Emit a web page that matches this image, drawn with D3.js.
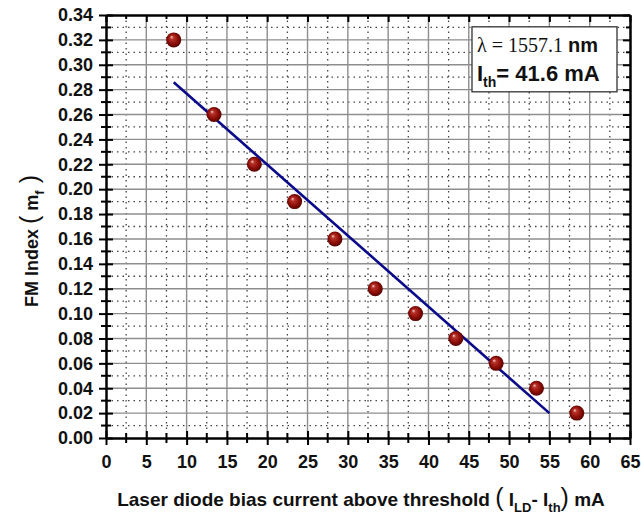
<!DOCTYPE html>
<html>
<head>
<meta charset="utf-8">
<script src="https://cdn.jsdelivr.net/npm/d3@7"></script>
<style>
  body { margin: 0; background: #fff; }
  text { font-family: "Liberation Sans", Arial, sans-serif; }
</style>
</head>
<body>
<div id="chart-area"></div>
<script>
// measured points
let currents = [8.4, 13.4, 18.4, 23.4, 28.4, 33.4, 38.4, 43.4, 48.4, 53.4, 58.4]
let fmIndex = [0.32, 0.26, 0.22, 0.19, 0.16, 0.12, 0.10, 0.08, 0.06, 0.04, 0.02]
// linear fit end points
let fitX = [8.4, 55]
let fitY = [0.286, 0.020]

let xTicks = d3.range(0, 66, 5)
let yTicks = d3.range(0, 0.3401, 0.02)
let xMinor = d3.range(2.5, 65, 5)
let yMinor = d3.range(0.01, 0.34, 0.02)

let margin = { top: 15, right: 11, bottom: 79, left: 106 }
let width = 641, height = 517
let canvasWidth = width - margin.left - margin.right
let canvasHeight = height - margin.top - margin.bottom

let svg = d3.select("#chart-area").append("svg")
  .attr("width", width)
  .attr("height", height)

let defs = svg.append("defs")
let grad = defs.append("radialGradient")
  .attr("id", "ball")
  .attr("cx", "50%").attr("cy", "50%").attr("r", "55%")
  .attr("fx", "35%").attr("fy", "30%")
grad.append("stop").attr("offset", "0%").attr("stop-color", "#f4d6d2")
grad.append("stop").attr("offset", "22%").attr("stop-color", "#b8332a")
grad.append("stop").attr("offset", "65%").attr("stop-color", "#8a0c06")
grad.append("stop").attr("offset", "100%").attr("stop-color", "#4a0200")

let g = svg.append("g")
  .attr("transform", "translate(" + margin.left + ", " + margin.top + ")")

let x = d3.scaleLinear().domain([0, 65]).range([0, canvasWidth])
let y = d3.scaleLinear().domain([0, 0.34]).range([canvasHeight, 0])

// minor dotted grid
g.selectAll(".vminor").data(xMinor).enter().append("line")
  .attr("x1", d => x(d)).attr("x2", d => x(d))
  .attr("y1", 0).attr("y2", canvasHeight)
  .attr("stroke", "#444").attr("stroke-width", 1.3).attr("stroke-dasharray", "1.5,4")
g.selectAll(".hminor").data(yMinor).enter().append("line")
  .attr("y1", d => y(d)).attr("y2", d => y(d))
  .attr("x1", 0).attr("x2", canvasWidth)
  .attr("stroke", "#444").attr("stroke-width", 1.3).attr("stroke-dasharray", "1.5,4")

// major grid
g.selectAll(".vmajor").data(xTicks.slice(1, -1)).enter().append("line")
  .attr("x1", d => x(d)).attr("x2", d => x(d))
  .attr("y1", 0).attr("y2", canvasHeight)
  .attr("stroke", "#8e8e8e").attr("stroke-width", 1.4)
g.selectAll(".hmajor").data(yTicks.slice(1, -1)).enter().append("line")
  .attr("y1", d => y(d)).attr("y2", d => y(d))
  .attr("x1", 0).attr("x2", canvasWidth)
  .attr("stroke", "#8e8e8e").attr("stroke-width", 1.4)

// axes
function styleAxis(sel) {
  sel.select(".domain").attr("stroke-width", 2.5)
  sel.selectAll(".tick line").attr("stroke-width", 2)
  sel.selectAll("text").attr("font-size", 18).attr("font-weight", "bold").attr("fill", "#111")
}

let xAxis = g.append("g").attr("transform", "translate(0," + canvasHeight + ")")
  .call(d3.axisBottom(x).tickValues(xTicks).tickSizeInner(-7).tickSizeOuter(0).tickPadding(17))
xAxis.call(styleAxis)
xAxis.selectAll(".tick line").attr("y1", 7)
xAxis.selectAll(".minor").data(xMinor).enter().append("line")
  .attr("x1", d => x(d)).attr("x2", d => x(d)).attr("y1", -5).attr("y2", 5)
  .attr("stroke", "#000").attr("stroke-width", 2)

let yAxis = g.append("g")
  .call(d3.axisLeft(y).tickValues(yTicks).tickFormat(d3.format(".2f")).tickSizeInner(-7).tickSizeOuter(0).tickPadding(13))
yAxis.call(styleAxis)
yAxis.selectAll(".tick line").attr("x1", -7)
yAxis.selectAll(".minor").data(yMinor).enter().append("line")
  .attr("y1", d => y(d)).attr("y2", d => y(d)).attr("x1", -5).attr("x2", 5)
  .attr("stroke", "#000").attr("stroke-width", 2)

let topAxis = g.append("g")
  .call(d3.axisTop(x).tickValues(xTicks).tickSizeInner(-7).tickSizeOuter(0).tickFormat(""))
topAxis.call(styleAxis)
topAxis.selectAll(".minor").data(xMinor).enter().append("line")
  .attr("x1", d => x(d)).attr("x2", d => x(d)).attr("y1", 0).attr("y2", 4)
  .attr("stroke", "#000").attr("stroke-width", 2)

let rightAxis = g.append("g").attr("transform", "translate(" + canvasWidth + ",0)")
  .call(d3.axisRight(y).tickValues(yTicks).tickSizeInner(-7).tickSizeOuter(0).tickFormat(""))
rightAxis.call(styleAxis)
rightAxis.selectAll(".minor").data(yMinor).enter().append("line")
  .attr("y1", d => y(d)).attr("y2", d => y(d)).attr("x1", 0).attr("x2", -4)
  .attr("stroke", "#000").attr("stroke-width", 2)

// fit line
g.append("line")
  .attr("x1", x(fitX[0])).attr("y1", y(fitY[0]))
  .attr("x2", x(fitX[1])).attr("y2", y(fitY[1]))
  .attr("stroke", "#0a0a8a").attr("stroke-width", 2.6)

// points
g.selectAll(".pt").data(currents).enter().append("circle")
  .attr("cx", d => x(d))
  .attr("cy", (d, i) => y(fmIndex[i]))
  .attr("r", 7.5)
  .attr("fill", "url(#ball)")

// info box
let box = g.append("g").attr("transform", "translate(" + (x(45.4)) + "," + (y(0.3305)) + ")")
box.append("rect")
  .attr("width", 145).attr("height", 65)
  .attr("fill", "#fff").attr("stroke", "#333").attr("stroke-width", 1.3)
let l1 = box.append("text").attr("x", 5).attr("y", 25).attr("fill", "#111")
l1.append("tspan").attr("font-family", "Liberation Serif, Times New Roman, serif").attr("font-size", 20).text("λ = 1557.1 ")
l1.append("tspan").attr("font-weight", "bold").attr("font-size", 20).text("nm")
let l2 = box.append("text").attr("x", 5).attr("y", 54).attr("fill", "#111")
  .attr("font-weight", "bold").attr("font-size", 22)
l2.append("tspan").text("I")
l2.append("tspan").attr("font-size", 14).attr("dy", 6).text("th")
l2.append("tspan").attr("dy", -6).text("= 41.6 mA")

// axis titles
let xt = svg.append("text")
  .attr("x", margin.left + canvasWidth / 2 - 7).attr("y", 506)
  .attr("text-anchor", "middle").attr("font-size", 19).attr("font-weight", "bold").attr("fill", "#111")
xt.append("tspan").text("Laser diode bias current above threshold ")
xt.append("tspan").attr("font-size", 25).attr("font-weight", "normal").text("(")
xt.append("tspan").text(" I")
xt.append("tspan").attr("font-size", 13).attr("dy", 6).text("LD")
xt.append("tspan").attr("dy", -6).text("- I")
xt.append("tspan").attr("font-size", 13).attr("dy", 6).text("th")
xt.append("tspan").attr("dy", -6).attr("font-size", 25).attr("font-weight", "normal").text(")")
xt.append("tspan").text(" mA")

let yt = svg.append("text")
  .attr("transform", "translate(38," + 241 + ") rotate(-90)")
  .attr("text-anchor", "middle").attr("font-size", 18).attr("font-weight", "bold").attr("fill", "#111")
yt.append("tspan").text("FM Index ")
yt.append("tspan").attr("font-size", 25).attr("font-weight", "normal").text("(")
yt.append("tspan").text(" m")
yt.append("tspan").attr("font-size", 13).attr("dy", 6).text("f")
yt.append("tspan").attr("dy", -6).attr("font-size", 25).attr("font-weight", "normal").text(" )")
</script>
</body>
</html>
